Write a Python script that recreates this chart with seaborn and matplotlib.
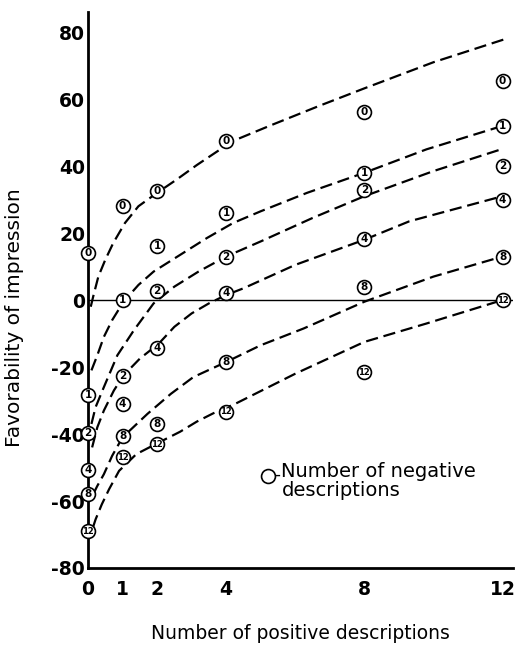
import matplotlib
matplotlib.use("Agg")
import matplotlib.pyplot as plt
import seaborn as sns
import pandas as pd

# Observed points: rows = number of negative descriptions, cols = positive descriptions
pos_counts = [0, 1, 2, 4, 8, 12]
neg_counts = [0, 1, 2, 4, 8, 12]
obs_neg0 = [14, 28, 32.5, 47.4, 56, 65.4]
obs_neg1 = [-28.4, 0, 16.1, 26, 38, 52]
obs_neg2 = [-39.6, -22.7, 2.7, 12.9, 32.8, 40]
obs_neg4 = [-50.7, -30.9, -14.4, 2, 18.2, 29.9]
obs_neg8 = [-57.9, -40.6, -37, -18.6, 4, 12.9]
obs_neg12 = [-69, -46.9, -43, -33.4, -21.5, 0]

# Dashed curves, points
c0_x = [0.08, 0.15, 0.3, 0.5, 0.73, 1.07, 1.46, 2.0, 2.57, 3.15, 3.73, 4.2, 5.3, 6.7, 8.0, 10.0, 12.1]
c0_y = [-2, 1, 7, 12, 17, 23, 28, 32, 36, 40.3, 44.3, 47.5, 52.2, 58, 63.2, 71, 78]
c1_x = [0.1, 0.27, 0.46, 0.7, 1.03, 1.46, 1.9, 2.67, 3.44, 4.2, 5.0, 6.34, 8.0, 9.8, 12.0]
c1_y = [-21, -16.5, -11, -6, -0.5, 4.5, 8.5, 13.5, 18.5, 23, 26.5, 32, 38, 45, 52]
c2_x = [0.1, 0.22, 0.46, 0.85, 1.33, 1.9, 2.5, 3.2, 4.0, 5.0, 6.5, 8.0, 10.0, 11.9]
c2_y = [-37, -32, -26, -16.5, -9, -1, 4, 8.5, 13, 17.5, 24.5, 31, 38.5, 44.8]
c4_x = [0.12, 0.27, 0.46, 0.75, 1.03, 1.5, 2.05, 2.5, 3.0, 3.5, 4.0, 4.5, 6.0, 8.0, 9.3, 12.0]
c4_y = [-44, -38, -33, -27, -22.5, -17.5, -13, -8, -4, -1, 1.5, 3.5, 10.5, 18, 23.5, 31]
c8_x = [0.15, 0.27, 0.46, 0.7, 1.0, 1.72, 2.4, 3.05, 4.0, 5.0, 6.24, 8.0, 10.0, 12.0]
c8_y = [-58, -55.5, -52, -46.5, -41, -34, -28, -23, -18.5, -13.5, -8.5, -0.5, 7, 13]
c12_x = [0.15, 0.22, 0.4, 0.61, 0.9, 1.4, 2.0, 2.67, 3.15, 3.63, 4.26, 6.0, 8.0, 9.8, 12.0]
c12_y = [-67.7, -65.5, -61, -56.5, -51, -46, -42.8, -39.3, -36.3, -33.8, -31, -22, -12.5, -7, 0]

y_ticks = [-80, -60, -40, -20, 0, 20, 40, 60, 80]

sns.set_style("white")
plt.rcParams["font.family"] = ["DejaVu Sans"]
plt.rcParams.update({"text.color": "black", "axes.labelcolor": "black",
                     "xtick.color": "black", "ytick.color": "black",
                     "axes.edgecolor": "black"})

obs = pd.DataFrame({
    "pos": pos_counts * 6,
    "neg": [n for n in neg_counts for _ in pos_counts],
    "fav": obs_neg0 + obs_neg1 + obs_neg2 + obs_neg4 + obs_neg8 + obs_neg12,
})
curves = [(c0_x, c0_y), (c1_x, c1_y), (c2_x, c2_y), (c4_x, c4_y), (c8_x, c8_y), (c12_x, c12_y)]

fig = plt.figure(figsize=(5.16, 6.45), dpi=100)
ax = fig.add_axes([0.1705, 0.1194, 0.8235, 0.862])

ax.axhline(0, color="black", lw=1.0, zorder=1)
for cx, cy in curves:
    sns.lineplot(x=cx, y=cy, ax=ax, color="black", lw=1.6, linestyle=(0, (5.5, 2.6)),
                 sort=False, zorder=2)

sns.scatterplot(data=obs, x="pos", y="fav", ax=ax, marker="o", s=100, color="white",
                edgecolor="black", linewidth=1.2, zorder=4, clip_on=False, legend=False)
for _, r in obs.iterrows():
    fs = 6 if r["neg"] >= 10 else 7.5
    ax.text(r["pos"], r["fav"], str(int(r["neg"])), ha="center", va="center",
            fontsize=fs, fontweight="bold", color="black", zorder=5, clip_on=False)

# legend note
ax.scatter([5.2], [-52.5], s=100, facecolor="white", edgecolor="black", linewidth=1.2, zorder=4)
ax.text(5.4, -52.3, "-", ha="left", va="center", fontsize=12, color="black")
ax.text(5.6, -48.3, "Number of negative\ndescriptions", ha="left", va="top",
        fontsize=14, linespacing=1.0, color="black")

ax.set_xlim(0, 12.3)
ax.set_ylim(-80, 86)
ax.set_xticks(pos_counts)
ax.set_xticklabels([str(p) for p in pos_counts])
ax.set_yticks(y_ticks)
ax.set_yticklabels([str(t) for t in y_ticks])
ax.tick_params(axis="both", direction="in", length=4, width=1.2, labelsize=13.5, pad=5,
               colors="black")
for lbl in ax.get_xticklabels() + ax.get_yticklabels():
    lbl.set_fontweight("bold")
ax.tick_params(axis="x", pad=9)
ax.tick_params(axis="y", pad=2)

sns.despine(ax=ax)
for s in ["left", "bottom"]:
    ax.spines[s].set_linewidth(2)
    ax.spines[s].set_color("black")

ax.set_xlabel("Number of positive descriptions", fontsize=13.5, color="black")
ax.xaxis.set_label_coords(0.5, -0.1)
ax.set_ylabel("Favorability of impression", fontsize=14.5, color="black")
ax.yaxis.set_label_coords(-0.15, 0.45)

fig.savefig("out.png", dpi=100)
